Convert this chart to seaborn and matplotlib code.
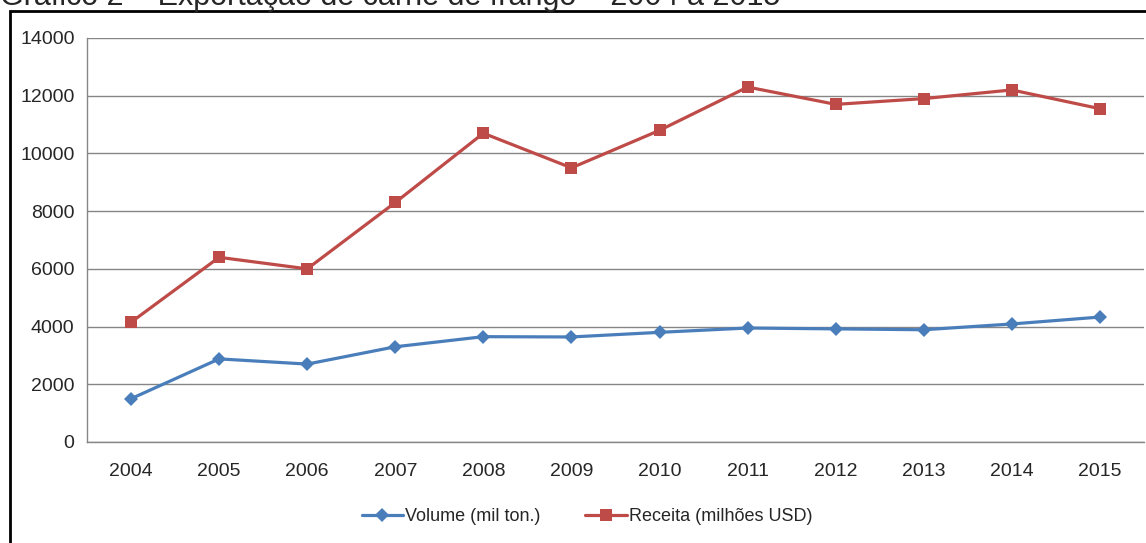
import pandas as pd
import matplotlib
matplotlib.use('Agg')
from matplotlib import pyplot as plt
from matplotlib.patches import Rectangle
import seaborn as sns

# Data
years = ['2004', '2005', '2006', '2007', '2008', '2009', '2010', '2011', '2012', '2013', '2014', '2015']
volume = [1500, 2880, 2700, 3300, 3650, 3640, 3800, 3950, 3920, 3890, 4090, 4330]
receita = [4150, 6400, 6000, 8300, 10700, 9500, 10800, 12300, 11700, 11900, 12200, 11550]

df = pd.DataFrame({
    'pos': list(range(len(years))) * 2,
    'valor': volume + receita,
    'serie': ['Volume (mil ton.)'] * len(years) + ['Receita (milhões USD)'] * len(years),
})

sns.set_style('white')
plt.rcParams['font.family'] = ['Liberation Sans', 'DejaVu Sans']

fig = plt.figure(figsize=(11.46, 5.43), dpi=100)
ax = fig.add_axes([87 / 1146, 101 / 543, 1057 / 1146, 404 / 543])

colors = {'Volume (mil ton.)': '#4A7EBB', 'Receita (milhões USD)': '#BE4B48'}
markers = {'Volume (mil ton.)': 'D', 'Receita (milhões USD)': 's'}
sizes = {'Volume (mil ton.)': 7.5, 'Receita (milhões USD)': 9}

for name in ['Volume (mil ton.)', 'Receita (milhões USD)']:
    sub = df[df['serie'] == name]
    sns.lineplot(data=sub, x='pos', y='valor', ax=ax, color=colors[name],
                 marker=markers[name], markersize=sizes[name], markeredgewidth=0,
                 linewidth=2.3, label=name)

ax.set_xlim(-0.5, len(years) - 0.5)
ax.set_ylim(0, 14000)
ax.set_yticks(range(0, 14001, 2000))
ax.set_xticks(range(len(years)))
ax.set_xticklabels(years)
ax.set_xticks([i - 0.5 for i in range(len(years) + 1)], minor=True)
ax.tick_params(axis='x', which='major', length=0, pad=15, labelsize=14)
ax.tick_params(axis='x', which='minor', length=6, color='#868686', width=1, direction='out')
ax.tick_params(axis='y', length=6, color='#868686', width=1, direction='out', pad=3, labelsize=14)
ax.set_xlabel('')
ax.set_ylabel('')
ax.yaxis.grid(True, color='#868686', linewidth=1)
ax.xaxis.grid(False)
for s in ['top', 'right']:
    ax.spines[s].set_visible(False)
for s in ['left', 'bottom']:
    ax.spines[s].set_color('#868686')
    ax.spines[s].set_linewidth(1)

ax.legend(loc='center', bbox_to_anchor=(0.473, -0.185), ncol=2, frameon=False,
          fontsize=13, handlelength=2.3, handletextpad=0.1, columnspacing=2.5)

# Outer frame and cut-off title
fig.patches.append(Rectangle((10 / 1146, -0.2), 1.2, 1.2 - 11 / 543,
                             transform=fig.transFigure, fill=False,
                             edgecolor='black', linewidth=2))
fig.text(0.0, 1 - 5 / 543, 'Gráfico 2 – Exportação de carne de frango – 2004 a 2015',
         fontsize=22, va='baseline', ha='left')

plt.savefig('out.png', dpi=100)
